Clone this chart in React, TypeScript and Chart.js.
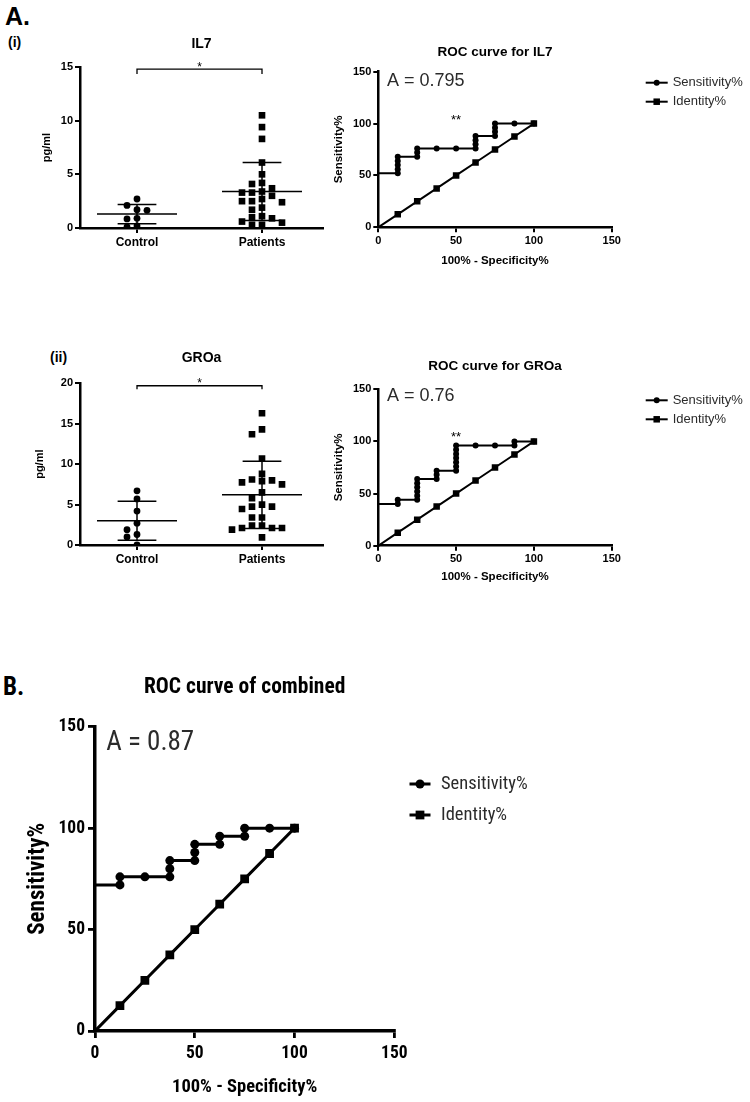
import React, { useEffect, useRef } from 'react';
import { Chart, registerables } from 'chart.js';
Chart.register(...registerables);

const SANS = "'Liberation Sans', Arial, Helvetica, sans-serif";
const NARROW = "'Roboto Condensed', 'Liberation Sans Narrow', 'Open Sans', 'Noto Sans', sans-serif";

// ---------- Panel A(i): IL7 ----------
const groupLabels = ['Control', 'Patients'];
const il7Control = [2.7, 2.1, 1.7, 1.65, 0.9, 0.85, 0.1, 0.2];
const il7Patients = [10.5, 9.4, 8.3, 6.1, 5.0, 4.1, 4.2, 3.7, 3.4, 3.3, 3.3, 3.0, 2.7, 2.5, 2.5, 2.4, 1.9, 1.7, 1.1, 1.0, 0.9, 0.6, 0.5, 0.3, 0.3];
const il7Mean = [1.3, 3.4];
const il7Sd = [0.9, 2.7];
const il7Bracket = [14.35, 14.8];

const il7RocX = [0, 12.5, 12.5, 12.5, 12.5, 12.5, 25, 25, 25, 37.5, 50, 62.5, 62.5, 62.5, 62.5, 75, 75, 75, 75, 87.5, 100];
const il7RocY = [52, 52, 56, 60, 64, 68, 68, 72, 76, 76, 76, 76, 80, 84, 88, 88, 92, 96, 100, 100, 100];

// ---------- Panel A(ii): GROa ----------
const groControl = [6.7, 5.7, 4.2, 2.7, 1.9, 1.3, 1.0, 0.0];
const groPatients = [16.3, 14.3, 13.7, 10.7, 8.8, 8.1, 7.9, 7.5, 7.75, 8.0, 6.5, 5.8, 4.75, 4.45, 4.75, 5.0, 3.4, 3.4, 2.1, 2.1, 2.4, 2.4, 1.9, 2.1, 0.95];
const groMean = [3.0, 6.2];
const groSd = [2.4, 4.15];
const groBracket = [19.25, 19.7];

const groRocX = [0, 12.5, 12.5, 25, 25, 25, 25, 25, 25, 37.5, 37.5, 37.5, 50, 50, 50, 50, 50, 50, 50, 62.5, 75, 87.5, 87.5, 100];
const groRocY = [40, 40, 44, 44, 48, 52, 56, 60, 64, 64, 68, 72, 72, 76, 80, 84, 88, 92, 96, 96, 96, 96, 100, 100];

// ---------- Panel B: combined ----------
const combRocX = [0, 12.5, 12.5, 25, 37.5, 37.5, 37.5, 50, 50, 50, 62.5, 62.5, 75, 75, 87.5, 100];
const combRocY = [72, 72, 76, 76, 76, 80, 84, 84, 88, 92, 92, 96, 96, 100, 100, 100];

// identity line (shared)
const identityPct = [0, 12.5, 25, 37.5, 50, 62.5, 75, 87.5, 100];

const legendLabels = ['Sensitivity%', 'Identity%'];

type Pt = { x: number; y: number | null };

function swarm(values: number[], center: number, dx: number, dyTol: number): Pt[] {
  const order = values.map((_, i) => i).sort((a, b) => values[b] - values[a]);
  const placed: { x: number; y: number }[] = [];
  const out: Pt[] = new Array(values.length);
  for (const i of order) {
    const y = values[i];
    for (let k = 0; k < 60; k++) {
      const off = k === 0 ? 0 : (k % 2 === 1 ? -1 : 1) * Math.ceil(k / 2) * dx;
      const x = center + off;
      const clash = placed.some(p => Math.abs(p.y - y) < dyTol && Math.abs(p.x - x) < dx * 0.999);
      if (!clash) { placed.push({ x, y }); out[i] = { x, y }; break; }
    }
  }
  return out;
}

function errorBarPoints(means: number[], sds: number[], halfMean: number, halfCap: number): Pt[] {
  const pts: Pt[] = [];
  means.forEach((m, i) => {
    const c = i + 1, hi = m + sds[i], lo = m - sds[i];
    pts.push({ x: c - halfMean, y: m }, { x: c + halfMean, y: m }, { x: c, y: null });
    pts.push({ x: c - halfCap, y: hi }, { x: c + halfCap, y: hi }, { x: c, y: null });
    pts.push({ x: c - halfCap, y: lo }, { x: c + halfCap, y: lo }, { x: c, y: null });
    pts.push({ x: c, y: lo }, { x: c, y: hi }, { x: c, y: null });
  });
  return pts;
}

type TextItem = {
  text: string; font: string; color?: string; align?: CanvasTextAlign; baseline?: CanvasTextBaseline;
  mode: 'area' | 'data'; x: number; y: number; dx?: number; dy?: number;
};
type LegendCfg = { cx: number; half: number; tx: number; rows: number[]; font: string; color: string; lineWidth: number; circleR: number; rect: number };

function annotPlugin(id: string, texts: TextItem[], legend?: LegendCfg) {
  return {
    id,
    afterDraw(chart: any) {
      const { ctx, chartArea: a, scales } = chart;
      ctx.save();
      for (const t of texts) {
        let x: number, y: number;
        if (t.mode === 'data') { x = scales.x.getPixelForValue(t.x); y = scales.y.getPixelForValue(t.y); }
        else { x = a.left + t.x * (a.right - a.left); y = a.top; }
        x += t.dx || 0; y += t.dy || 0;
        ctx.font = t.font;
        ctx.fillStyle = t.color || '#000';
        ctx.textAlign = t.align || 'center';
        ctx.textBaseline = t.baseline || 'middle';
        ctx.fillText(t.text, x, y);
      }
      if (legend) {
        legendLabels.forEach((label, i) => {
          const cy = a.top + legend.rows[i];
          const cx = a.right + legend.cx;
          ctx.strokeStyle = '#000';
          ctx.lineWidth = legend.lineWidth;
          ctx.beginPath();
          ctx.moveTo(cx - legend.half, cy);
          ctx.lineTo(cx + legend.half, cy);
          ctx.stroke();
          ctx.fillStyle = '#000';
          if (i === 0) {
            ctx.beginPath();
            ctx.arc(cx, cy, legend.circleR, 0, Math.PI * 2);
            ctx.fill();
          } else {
            ctx.fillRect(cx - legend.rect / 2, cy - legend.rect / 2, legend.rect, legend.rect);
          }
          ctx.font = legend.font;
          ctx.fillStyle = legend.color;
          ctx.textAlign = 'left';
          ctx.textBaseline = 'middle';
          ctx.fillText(label, a.right + legend.tx, cy);
        });
      }
      ctx.restore();
    },
  };
}

function axisCommon(tickLen: number, borderW: number, tickW: number) {
  return {
    grid: { display: true, drawOnChartArea: false, drawTicks: true, tickLength: tickLen, color: '#000', lineWidth: tickW },
    border: { display: true, color: '#000', width: borderW },
  };
}

function dotConfig(p: {
  control: number[]; patients: number[]; means: number[]; sds: number[]; yMax: number; bracket: number[];
  title: string; yTitlePad: number; padTop: number; xHeight: number; titleDy: number; dyTol: number; id: string;
}) {
  const bracketPts: Pt[] = [
    { x: 1, y: p.bracket[0] }, { x: 1, y: p.bracket[1] }, { x: 2, y: p.bracket[1] }, { x: 2, y: p.bracket[0] },
  ];
  const tickFont = { family: SANS, size: 11, weight: 'bold' as const };
  return {
    type: 'scatter' as const,
    data: {
      datasets: [
        { type: 'line', data: errorBarPoints(p.means, p.sds, 0.32, 0.155), borderColor: '#000', borderWidth: 1.5, pointRadius: 0, showLine: true, spanGaps: false, tension: 0, fill: false },
        { type: 'line', data: bracketPts, borderColor: '#000', borderWidth: 1.3, pointRadius: 0, showLine: true, tension: 0, fill: false, clip: false },
        { data: swarm(p.control, 1, 0.08, p.dyTol), pointStyle: 'circle', pointRadius: 3.4, backgroundColor: '#000', borderColor: '#000', borderWidth: 0 },
        { data: swarm(p.patients, 2, 0.08, p.dyTol), pointStyle: 'rect', pointRadius: 4.7, backgroundColor: '#000', borderColor: '#000', borderWidth: 0 },
      ],
    },
    options: {
      responsive: false, animation: false, events: [],
      layout: { padding: { top: p.padTop, right: 7, left: 0, bottom: 0 } },
      plugins: { legend: { display: false }, tooltip: { enabled: false }, title: { display: false } },
      scales: {
        x: {
          type: 'linear', min: 0.544, max: 2.488,
          afterBuildTicks: (s: any) => { s.ticks = [{ value: 1 }, { value: 2 }]; },
          afterFit: (s: any) => { s.height = p.xHeight; },
          ticks: { callback: (v: number) => groupLabels[Math.round(v) - 1], font: { family: SANS, size: 12, weight: 'bold' }, color: '#000', padding: 2, maxRotation: 0, autoSkip: false },
          ...axisCommon(5, 2.5, 2),
        },
        y: {
          min: 0, max: p.yMax,
          afterFit: (s: any) => { s.width = 80; },
          ticks: { stepSize: 5, font: tickFont, color: '#000', padding: 2 },
          title: { display: true, text: 'pg/ml', font: { family: SANS, size: 11, weight: 'bold' }, color: '#000', padding: { top: p.yTitlePad, bottom: 0 } },
          ...axisCommon(5, 2.5, 2),
        },
      },
    },
    plugins: [annotPlugin(p.id, [
      { text: p.title, font: `bold 14px ${SANS}`, mode: 'area', x: 0.5, y: 0, dy: p.titleDy },
      { text: '*', font: `12px ${SANS}`, mode: 'data', x: 1.5, y: p.bracket[1], baseline: 'alphabetic', dy: 1.5 },
    ])],
  };
}

function rocConfig(p: {
  id: string; sensX: number[]; sensY: number[]; title: string; auc: string; aucY: number; star: boolean;
  font: string; boldW: string; normW: string; tickSize: number; titleSize: number; axisSize: number; yAxisSize: number; aucSize: number; legendSize: number;
  yWidth: number; xHeight: number; padTop: number; padRight: number; yTitlePad: number; xTitlePad: number;
  titleDy: number; lineWidth: number; circleR: number; rectR: number; tickLen: number; tickPad: number; xTickPad: number; borderW: number;
  legend: { cx: number; half: number; tx: number; rows: number[] };
}) {
  const sens = p.sensX.map((x, i) => ({ x, y: p.sensY[i] }));
  const ident = identityPct.map(v => ({ x: v, y: v }));
  const hideAtZero = (r: number) => (ctx: any) => (ctx.raw && ctx.raw.x === 0 ? 0 : r);
  const tickFont = { family: p.font, size: p.tickSize, weight: p.boldW };
  const axFont = { family: p.font, size: p.axisSize, weight: p.boldW };
  const yAxFont = { family: p.font, size: p.yAxisSize, weight: p.boldW };
  const texts: TextItem[] = [
    { text: p.title, font: `${p.boldW} ${p.titleSize}px ${p.font}`, mode: 'area', x: 0.5, y: 0, dy: p.titleDy },
    { text: p.auc, font: `${p.normW} ${p.aucSize}px ${p.font}`, color: '#2b2b2b', mode: 'data', x: 5.6, y: p.aucY, align: 'left' },
  ];
  if (p.star) texts.push({ text: '**', font: `13px ${SANS}`, mode: 'data', x: 50, y: 100, baseline: 'alphabetic' });
  return {
    type: 'line' as const,
    data: {
      datasets: [
        { label: legendLabels[1], data: ident, borderColor: '#000', borderWidth: p.lineWidth, pointStyle: 'rect', pointRadius: hideAtZero(p.rectR), pointBackgroundColor: '#000', pointBorderWidth: 0, tension: 0, fill: false },
        { label: legendLabels[0], data: sens, borderColor: '#000', borderWidth: p.lineWidth, pointStyle: 'circle', pointRadius: hideAtZero(p.circleR), pointBackgroundColor: '#000', pointBorderWidth: 0, tension: 0, fill: false },
      ],
    },
    options: {
      responsive: false, animation: false, events: [],
      layout: { padding: { top: p.padTop, right: p.padRight, left: 0, bottom: 0 } },
      plugins: { legend: { display: false }, tooltip: { enabled: false }, title: { display: false } },
      scales: {
        x: {
          type: 'linear', min: 0, max: 150,
          afterFit: (s: any) => { s.height = p.xHeight; },
          ticks: { stepSize: 50, font: tickFont, color: '#000', padding: p.xTickPad, maxRotation: 0 },
          title: { display: true, text: '100% - Specificity%', font: axFont, color: '#000', padding: { top: 0, bottom: p.xTitlePad } },
          ...axisCommon(p.tickLen, p.borderW, p.borderW * 0.8),
        },
        y: {
          type: 'linear', min: 0, max: 150,
          afterFit: (s: any) => { s.width = p.yWidth; },
          ticks: { stepSize: 50, font: tickFont, color: '#000', padding: p.tickPad },
          title: { display: true, text: 'Sensitivity%', font: yAxFont, color: '#000', padding: { top: p.yTitlePad, bottom: 0 } },
          ...axisCommon(p.tickLen, p.borderW, p.borderW * 0.8),
        },
      },
    },
    plugins: [annotPlugin(p.id, texts, {
      ...p.legend, font: `${p.normW} ${p.legendSize}px ${p.font}`, color: '#2b2b2b', lineWidth: p.lineWidth,
      circleR: p.circleR, rect: p.rectR * Math.SQRT2,
    })],
  };
}

function ChartBox({ left, top, width, height, make }: { left: number; top: number; width: number; height: number; make: () => any }) {
  const ref = useRef<HTMLCanvasElement | null>(null);
  useEffect(() => {
    if (!ref.current) return;
    const chart = new Chart(ref.current, make());
    return () => chart.destroy();
  }, []);
  return (
    <div style={{ position: 'absolute', left, top, width, height }}>
      <canvas ref={ref} width={width} height={height} style={{ width, height, display: 'block' }} />
    </div>
  );
}

const smallRoc = {
  font: SANS, boldW: 'bold', normW: 'normal', tickSize: 11, titleSize: 13.5, axisSize: 11.5, yAxisSize: 11.5, aucSize: 18, legendSize: 13,
  yWidth: 48.3, padRight: 138.3, yTitlePad: 2.4, lineWidth: 2, circleR: 3, rectR: 4.6,
  tickLen: 5, tickPad: 2, xTickPad: 2, borderW: 2.5,
  legend: { cx: 45, half: 11, tx: 61, rows: [11, 30] },
};

export default function App() {
  return (
    <div style={{ position: 'absolute', left: 0, top: 0, width: 750, height: 1102, background: '#fff', fontFamily: SANS }}>
      <div style={{ position: 'absolute', left: 5, top: 4, fontSize: 25, fontWeight: 'bold', lineHeight: 1, whiteSpace: 'nowrap' }}>A.</div>
      <div style={{ position: 'absolute', left: 8, top: 35, fontSize: 14, fontWeight: 'bold', lineHeight: 1, whiteSpace: 'nowrap' }}>(i)</div>
      <div style={{ position: 'absolute', left: 50, top: 350, fontSize: 14, fontWeight: 'bold', lineHeight: 1, whiteSpace: 'nowrap' }}>(ii)</div>
      <div style={{ position: 'absolute', left: 3, top: 674, fontSize: 25, fontWeight: 'bold', lineHeight: 1, whiteSpace: 'nowrap', fontFamily: NARROW }}>B.</div>

      <ChartBox left={0} top={30} width={330} height={225} make={() => dotConfig({
        id: 'a1', control: il7Control, patients: il7Patients, means: il7Mean, sds: il7Sd, yMax: 15, bracket: il7Bracket,
        title: 'IL7', yTitlePad: 40.4, padTop: 37, xHeight: 27, titleDy: -22.5, dyTol: 0.65,
      })} />
      <ChartBox left={330} top={40} width={420} height={230} make={() => rocConfig({
        ...smallRoc, id: 'a2', sensX: il7RocX, sensY: il7RocY, title: 'ROC curve for IL7', auc: 'A = 0.795', aucY: 141, star: true,
        xHeight: 42.7, padTop: 31.7, xTitlePad: 2.3, titleDy: -19,
      })} />
      <ChartBox left={0} top={340} width={330} height={225} make={() => dotConfig({
        id: 'a3', control: groControl, patients: groPatients, means: groMean, sds: groSd, yMax: 20, bracket: groBracket,
        title: 'GROa', yTitlePad: 33.4, padTop: 43.3, xHeight: 20, titleDy: -25.3, dyTol: 0.87,
      })} />
      <ChartBox left={330} top={350} width={420} height={240} make={() => rocConfig({
        ...smallRoc, id: 'a4', sensX: groRocX, sensY: groRocY, title: 'ROC curve for GROa', auc: 'A = 0.76', aucY: 144, star: true,
        xHeight: 44.3, padTop: 39.3, xTitlePad: 5.8, titleDy: -22.6,
      })} />
      <ChartBox left={0} top={660} width={750} height={442} make={() => rocConfig({
        id: 'b1', sensX: combRocX, sensY: combRocY, title: 'ROC curve of combined', auc: 'A = 0.87', aucY: 142, star: false,
        font: NARROW, boldW: 'bold', normW: 'normal', tickSize: 17.5, titleSize: 21.5, axisSize: 18.5, yAxisSize: 23, aucSize: 27, legendSize: 18.5,
        yWidth: 95, xHeight: 71, padTop: 66.7, padRight: 355.7, yTitlePad: 24.2, xTitlePad: 3.8, titleDy: -38.7,
        lineWidth: 3, circleR: 4.5, rectR: 6.2, tickLen: 7, tickPad: 3, xTickPad: 5, borderW: 3.5,
        legend: { cx: 25.7, half: 10.5, tx: 46.7, rows: [57.3, 88.3] },
      })} />
    </div>
  );
}
